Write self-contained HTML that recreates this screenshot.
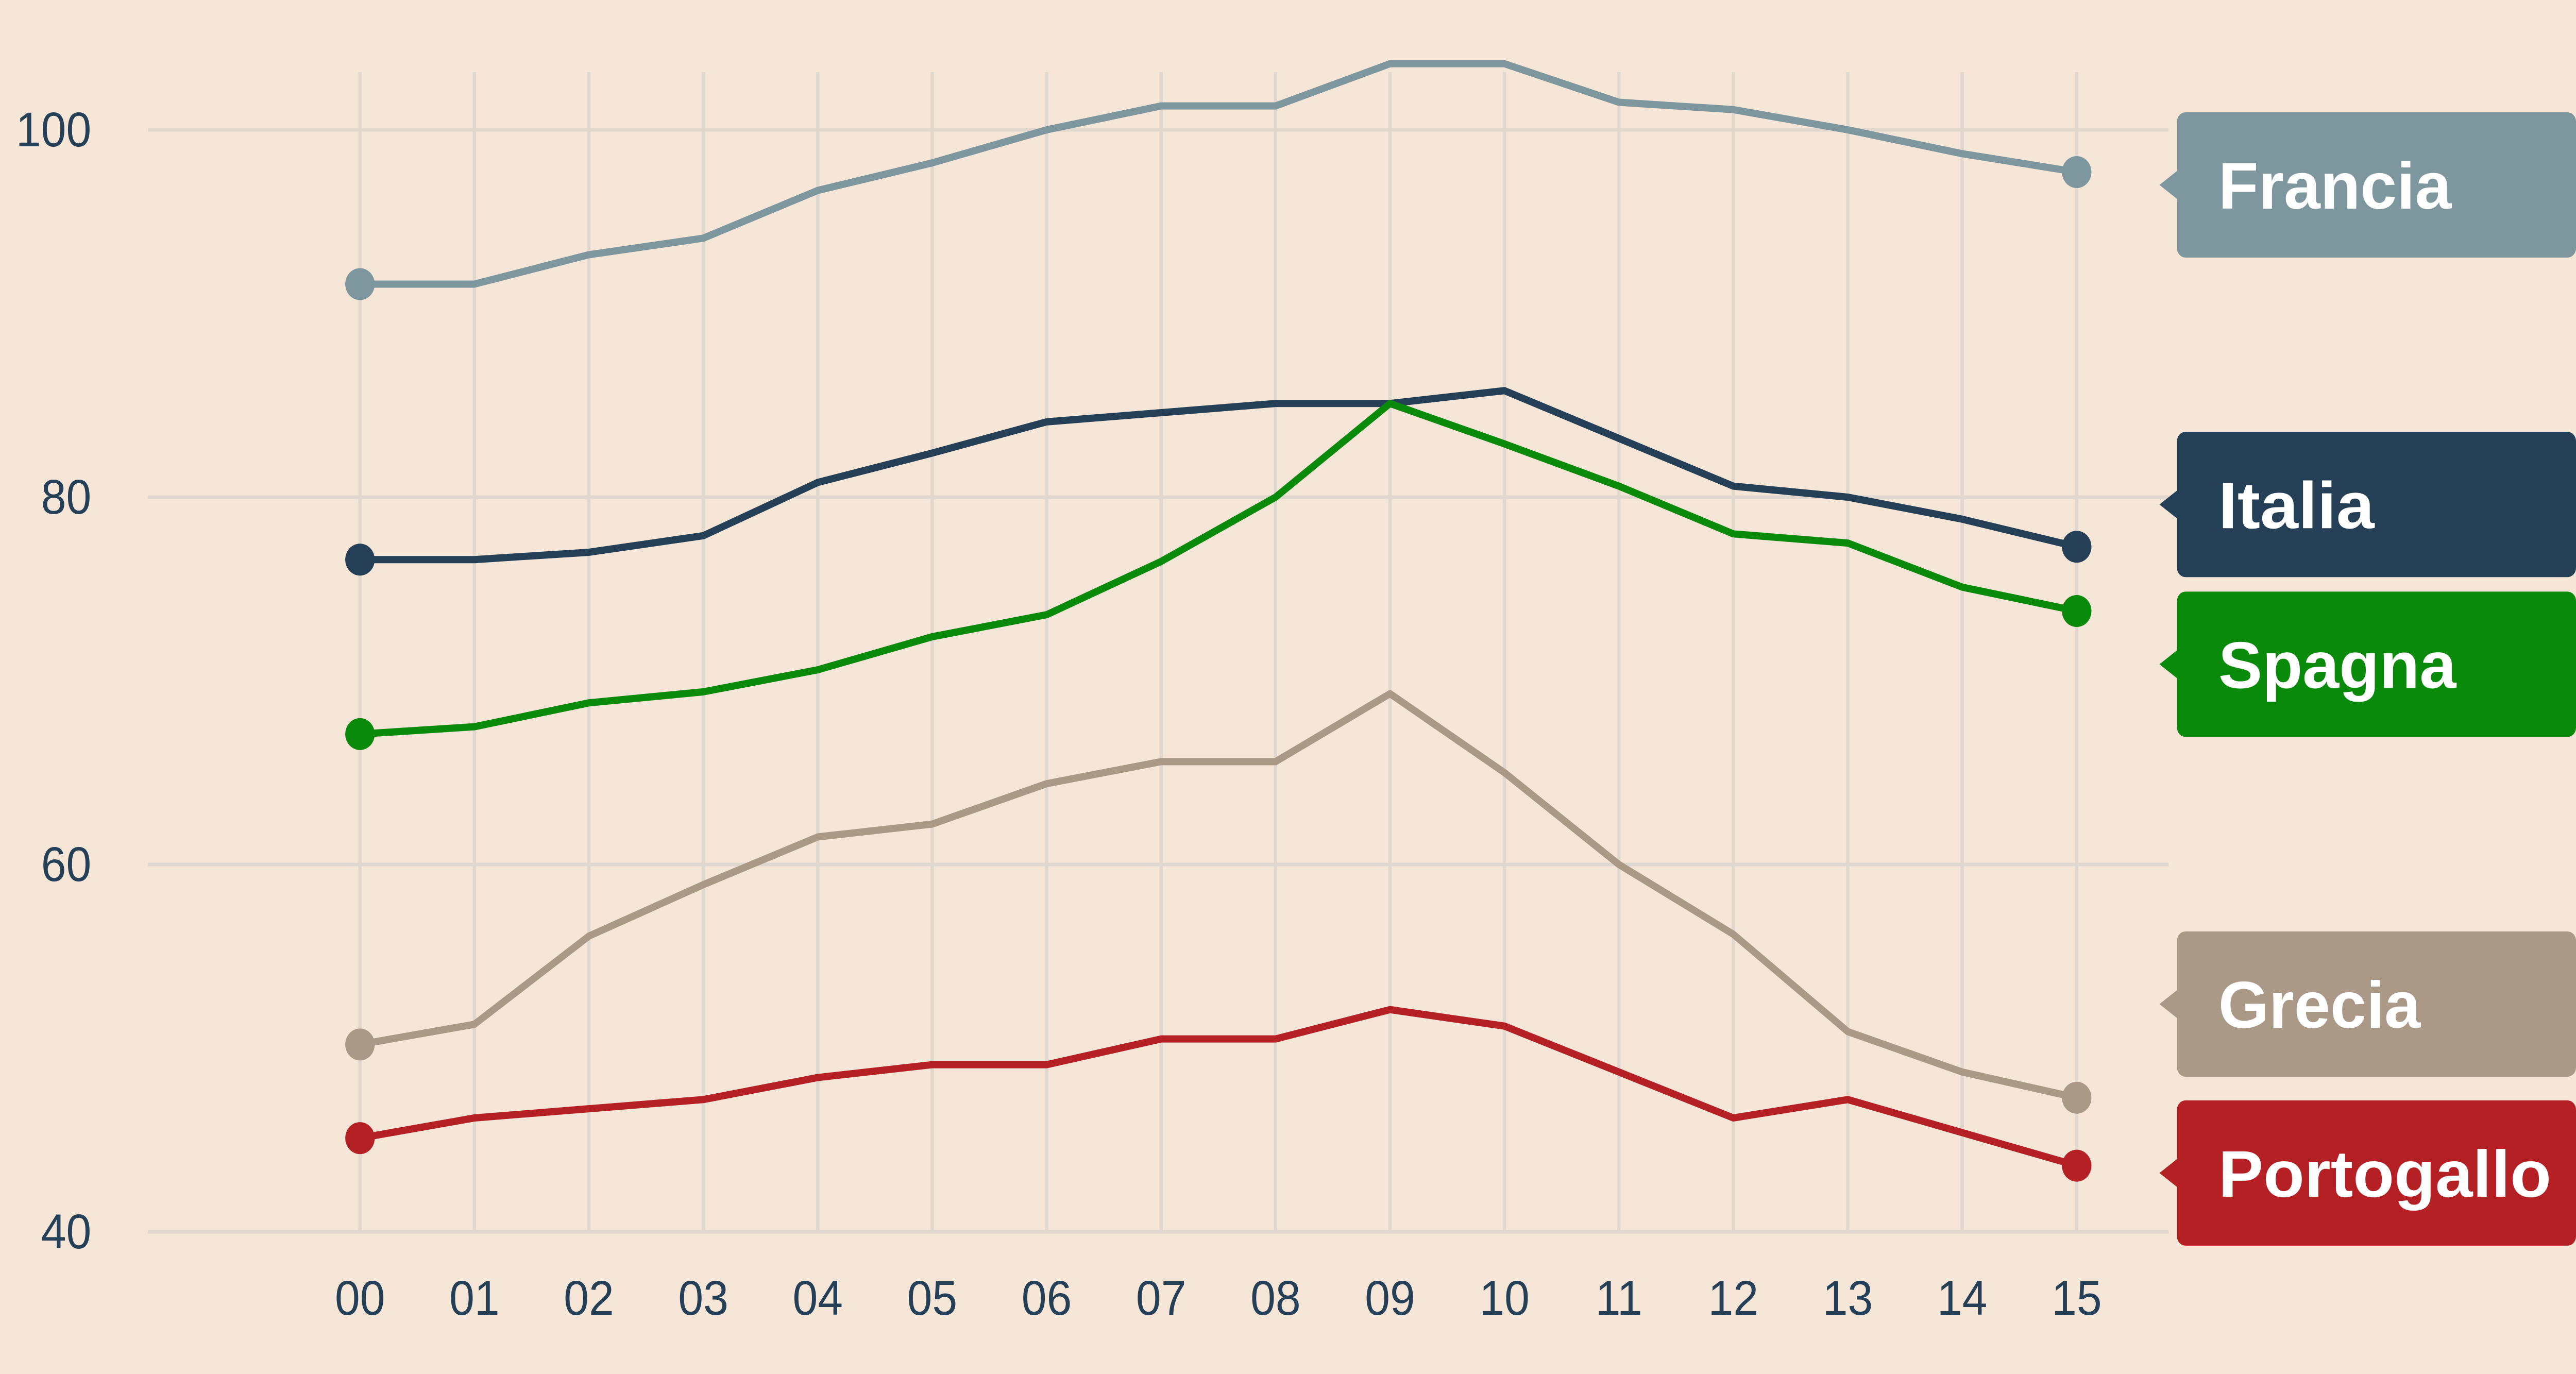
<!DOCTYPE html>
<html><head><meta charset="utf-8"><style>
html,body{margin:0;padding:0;background:#f5e6d7;overflow:hidden;width:100%;height:100%;}
svg{display:block;position:fixed;left:0;top:0;width:100vw;height:100vh;}
</style></head><body>
<svg id="chart" viewBox="0 0 5417 2667" preserveAspectRatio="none" xmlns="http://www.w3.org/2000/svg">
<rect width="5417" height="2667" fill="#f5e6d7"/>
<g id="grid"></g><g id="axes"></g><g id="lines"></g><g id="labels"></g>
</svg>
<script>
const years = ["00","01","02","03","04","05","06","07","08","09","10","11","12","13","14","15"];
const yTicks = [40,60,80,100];
const names = ["Francia","Italia","Spagna","Grecia","Portogallo"];
const colors = ["#7e979e","#243f56","#0a8a0a","#ab9988","#b52025"];
const francia = [91.6,91.6,93.2,94.1,96.7,98.2,100,101.3,101.3,103.6,103.6,101.5,101.1,100,98.7,97.7];
const italia = [76.6,76.6,77.0,77.9,80.8,82.4,84.1,84.6,85.1,85.1,85.8,83.2,80.6,80.0,78.8,77.3];
const spagna = [67.1,67.5,68.8,69.4,70.6,72.4,73.6,76.5,80.0,85.1,82.9,80.6,78.0,77.5,75.1,73.8];
const grecia = [50.2,51.3,56.1,58.9,61.5,62.2,64.4,65.6,65.6,69.3,65.0,60.0,56.2,50.9,48.7,47.3];
const portogallo = [45.1,46.2,46.7,47.2,48.4,49.1,49.1,50.5,50.5,52.1,51.2,48.7,46.2,47.2,45.4,43.6];
const labelCenters = [97.0,79.6,70.9,52.4,43.2];
const labelWidths = [490,328,500,425,700];
const series=[francia,italia,spagna,grecia,portogallo];
const NS="http://www.w3.org/2000/svg";
const x=i=>757+i*(4367-757)/15;
const y=v=>2391-(v-40)*(2391-252)/60;
function mk(t,a,p){const e=document.createElementNS(NS,t);for(const k in a)e.setAttribute(k,a[k]);p.appendChild(e);return e;}
const grid=document.getElementById('grid'),axes=document.getElementById('axes'),lines=document.getElementById('lines'),labels=document.getElementById('labels');
years.forEach((yr,i)=>{
 const l=mk('line',{x1:x(i),x2:x(i),y1:140,y2:2391,stroke:'#e0d8cf','stroke-width':7},grid);
 
 
 const t=mk('text',{x:x(i),y:2552,'text-anchor':'middle','font-size':95,fill:'#243f56','font-family':'Liberation Sans, sans-serif'},axes);
 t.textContent=yr;
 
 
});
yTicks.forEach(v=>{
 const l=mk('line',{x1:311,x2:4560,y1:y(v),y2:y(v),stroke:'#e0d8cf','stroke-width':7},grid);
 
 
 const t=mk('text',{x:192,y:y(v)+32,'text-anchor':'end','font-size':95,fill:'#243f56','font-family':'Liberation Sans, sans-serif'},axes);
 t.textContent=v;
 
 
});
series.forEach((s,k)=>{
 const n=names[k].toLowerCase();
 const p=mk('polyline',{points:s.map((v,i)=>x(i)+','+y(v)).join(' '),fill:'none',stroke:colors[k],'stroke-width':14,'stroke-linejoin':'round'},lines);
 
 
 [0,s.length-1].forEach(i=>{
  const c=mk('circle',{cx:x(i),cy:y(s[i]),r:31,fill:colors[k]},lines);
  
  
 });
 const cy=y(labelCenters[k]);
 const g=mk('g',{},labels);
 
 
 mk('rect',{x:4578,y:cy-141,width:839,height:282,rx:18,fill:colors[k]},g);
 mk('polygon',{points:`4582,${cy-30} 4541,${cy} 4582,${cy+30}`,fill:colors[k]},g);
 const t=mk('text',{x:4665,y:cy+46,'font-size':128,'font-weight':'bold',fill:'#fff','font-family':'Liberation Sans, sans-serif',textLength:labelWidths[k],lengthAdjust:'spacingAndGlyphs'},g);
 t.textContent=names[k];
});
</script>
</body></html>
